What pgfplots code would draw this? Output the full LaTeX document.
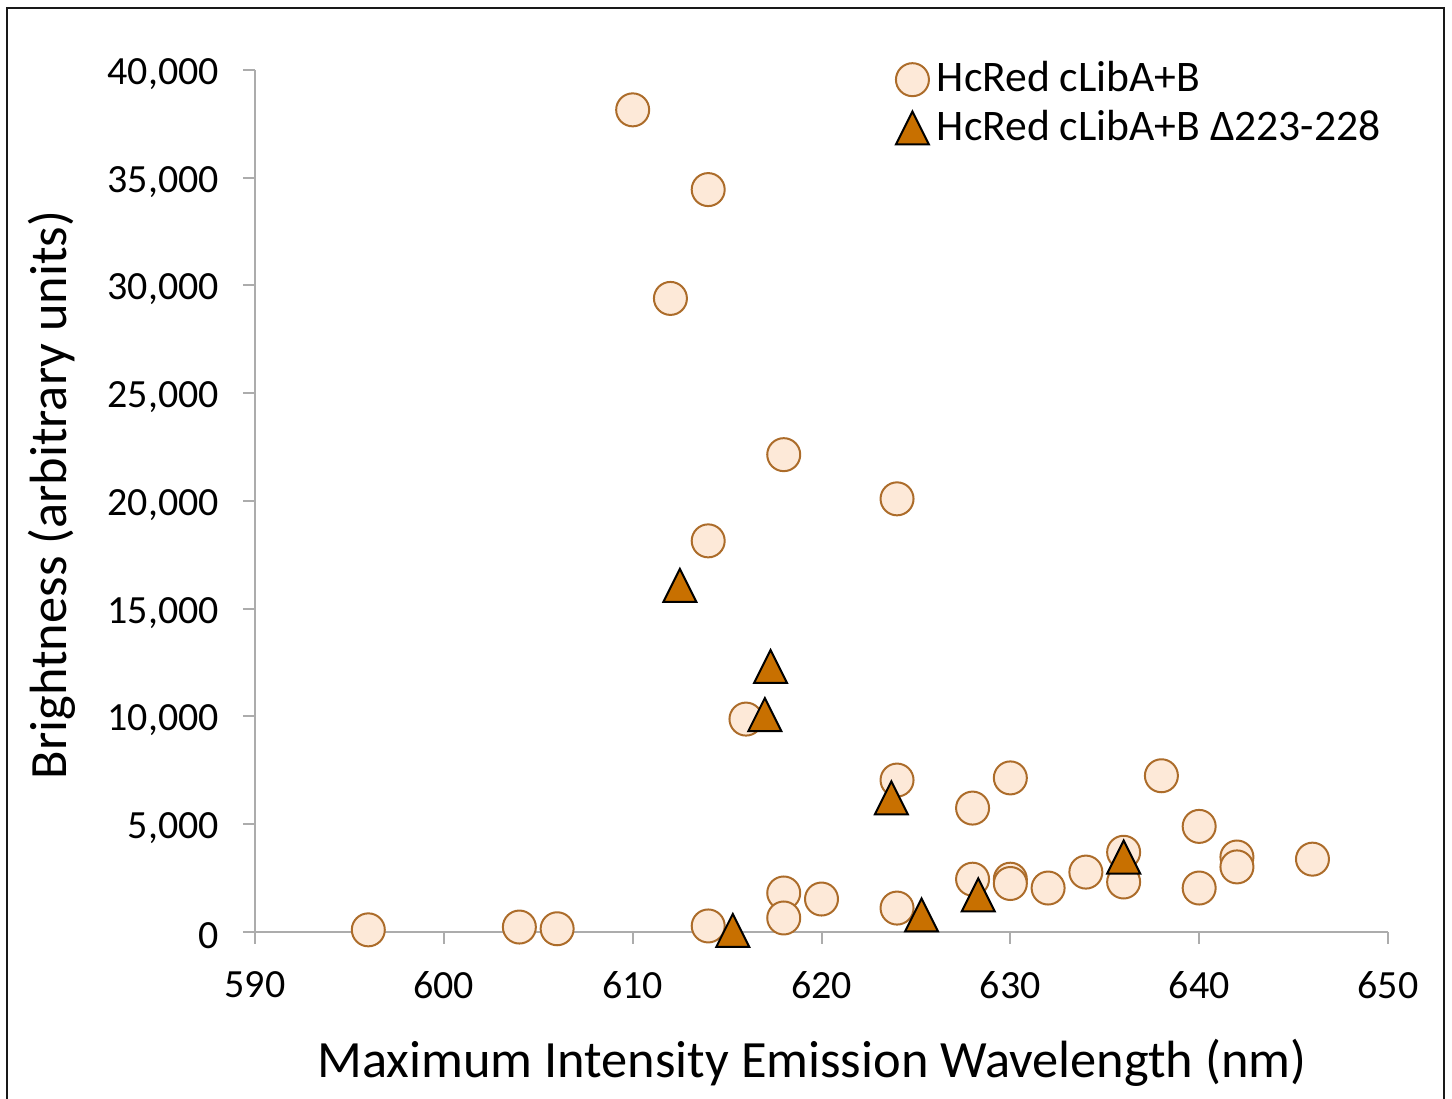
\documentclass[border=0pt]{standalone}
\usepackage{fontspec}
\setmainfont{Carlito}
\usepackage{pgfplots}
\pgfplotsset{compat=1.18}

\definecolor{circfill}{RGB}{253,233,216}
\definecolor{circedge}{RGB}{172,108,42}
\definecolor{trifill}{RGB}{200,112,0}
\definecolor{axgray}{RGB}{172,172,172}

% Excel-style triangle: box centred on the data point
\pgfdeclareplotmark{xltri}{%
  \pgfpathmoveto{\pgfqpoint{0pt}{\pgfplotmarksize}}%
  \pgfpathlineto{\pgfqpoint{-\pgfplotmarksize}{-\pgfplotmarksize}}%
  \pgfpathlineto{\pgfqpoint{\pgfplotmarksize}{-\pgfplotmarksize}}%
  \pgfpathclose
  \pgfusepathqfillstroke}

\begin{document}
\begin{tikzpicture}
    \useasboundingbox (-63.75pt,-41.75pt) rectangle (299.25pt,233pt);
    \begin{axis}[
        scale only axis,
        width=283.25pt,
        height=215.5pt,
        xmin=590, xmax=650,
        ymin=0, ymax=40000,
        axis x line=bottom,
        axis y line=left,
        axis line style={draw=axgray, line width=0.5pt, -},
        tick align=outside,
        major tick length=3pt,
        tick style={draw=axgray, line width=0.5pt},
        xtick={590,600,...,650},
        ytick={0,5000,...,40000},
        scaled y ticks=false,
        /pgf/number format/assume math mode=true,
        /pgf/number format/1000 sep={,},
        tick label style={font=\fontsize{10}{12}\selectfont},
        yticklabel style={xshift=-2.5pt, yshift=-1pt},
        xticklabel style={yshift=-3.25pt},
        xlabel={Maximum Intensity Emission Wavelength (nm)},
        ylabel={Brightness (arbitrary units)},
        label style={font=\fontsize{13.1}{15}\selectfont},
        xlabel style={at={(axis description cs:0.4916,-0.1515)}, anchor=center},
        ylabel style={at={(axis description cs:-0.179,0.507)}, anchor=center, rotate=0},
        legend style={
            at={(axis description cs:0.565,1.02)},
            anchor=north west,
            draw=none,
            fill=none,
            font=\fontsize{10.9}{12}\selectfont,
            row sep=-1pt,
            inner sep=0pt,
        },
        legend cell align=left,
        clip=false,
    ]

    % HcRed cLibA+B
    \addplot[
        only marks,
        mark=*,
        mark size=4.125pt,
        mark options={fill=circfill, draw=circedge, line width=0.5pt},
    ] coordinates {
        (596,100) (604,230) (606,150) (610,38150) (612,29400)
        (614,34450) (614,18150) (614,280)
        (616,9880)
        (618,22150) (618,1810) (618,650)
        (620,1530)
        (624,20100) (624,7050) (624,1110)
        (628,5750) (628,2450)
        (630,7150) (630,2450) (630,2250)
        (632,2040) (634,2780)
        (636,3700) (636,2320)
        (638,7250)
        (640,4900) (640,2040)
        (642,3480) (642,3020)
        (646,3380)
    };
    \addlegendentry{HcRed cLibA+B}

    % HcRed cLibA+B delta 223-228
    \addplot[
        only marks,
        mark=xltri,
        mark size=4.125pt,
        mark options={fill=trifill, draw=black, line width=0.5pt},
    ] coordinates {
        (612.5,16080) (617.3,12320) (617.0,10090) (623.7,6220)
        (636.0,3480) (628.3,1720) (625.3,790) (615.3,70)
    };
    \addlegendentry{HcRed cLibA+B Δ223-228}

    \end{axis}
    \draw[line width=0.55pt, black!90]
        (-62pt,-45pt) -- (-62pt,231pt) -- (297.25pt,231pt) -- (297.25pt,-45pt);
\end{tikzpicture}
\end{document}
